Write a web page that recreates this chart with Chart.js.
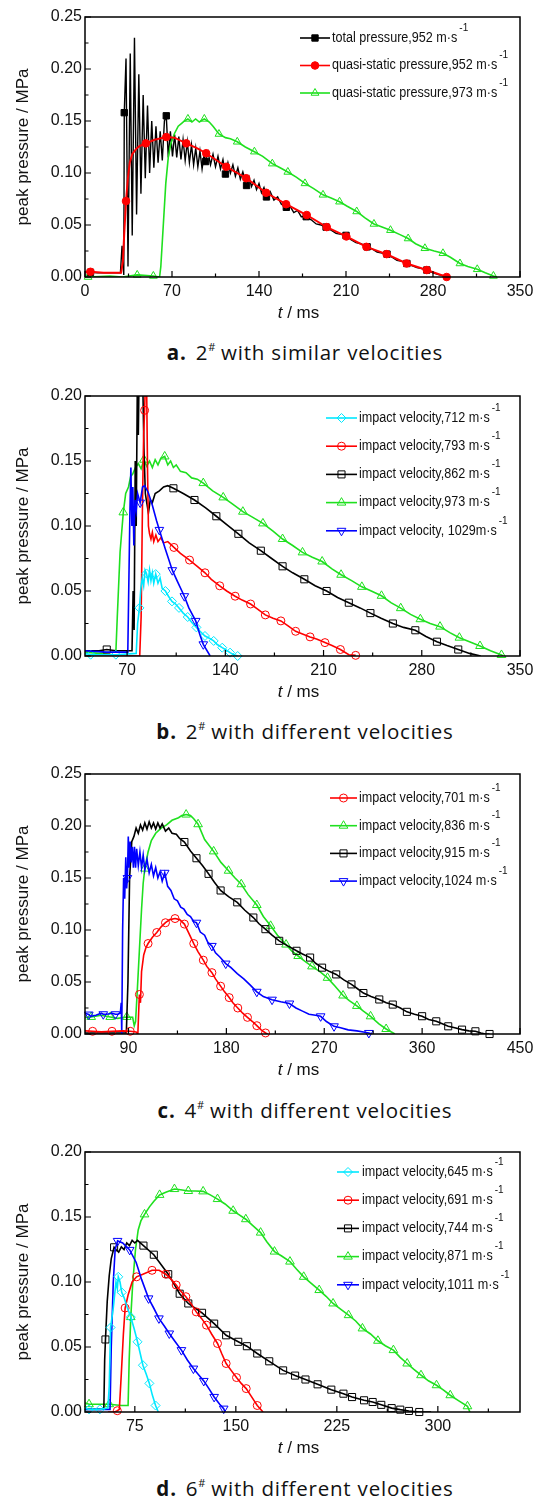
<!DOCTYPE html>
<html>
<head>
<meta charset="utf-8">
<script src="https://cdn.jsdelivr.net/npm/chart.js@4"></script>
<style>
  body { margin: 0; background: #fff; width: 539px; height: 1501px; position: relative; overflow: hidden; }
  canvas { position: absolute; left: 0; }
  .cap { position: absolute; left: 0; width: 610px; text-align: center; font-family: "Open Sans", "DejaVu Sans", sans-serif; font-size: 20.5px; letter-spacing: 0.8px; color: #111; }
  .cap b { font-weight: bold; margin-right: 9px; }
  .cap sup { font-size: 11px; vertical-align: 9px; margin-right: 5px; }
</style>
</head>
<body>
<canvas id="chartA" width="539" height="330" style="top:0px"></canvas>
<canvas id="chartB" width="539" height="330" style="top:379px"></canvas>
<canvas id="chartC" width="539" height="330" style="top:757px"></canvas>
<canvas id="chartD" width="539" height="330" style="top:1135px"></canvas>
<div class="cap" style="top:338px"><b>a.</b>2<sup>#</sup>with similar velocities</div>
<div class="cap" style="top:717px"><b>b.</b>2<sup>#</sup>with different velocities</div>
<div class="cap" style="top:1096px"><b>c.</b>4<sup>#</sup>with different velocities</div>
<div class="cap" style="top:1474px"><b>d.</b>6<sup>#</sup>with different velocities</div>
<script>
// ---- panel a : 2# with similar velocities ----
const aTicksX = [0, 70, 140, 210, 280, 350];
const aMinorX = [35, 105, 175, 245, 315];
const aTicksY = [0, 0.05, 0.1, 0.15, 0.2, 0.25];
const aLabels = ["total pressure,952 m·s", "quasi-static pressure,952 m·s", "quasi-static pressure,973 m·s"];

const aTotalMarks = [[4.4,0.0045],[31.6,0.158],[65.4,0.155],[97,0.111],[113,0.099],[130,0.088],[146,0.077],[162,0.067],[178,0.058],[194,0.048],[210,0.04],[227,0.029],[243,0.022],[259,0.013],[275,0.0067]];
const aTotalLine = [[0,0.005],[10,0.004],[20,0.004],[28.5,0.004],[29.8,0.03],[31.2,0.002],[33,0.21],[34.6,0.01],[36.4,0.215],[38,0.04],[39.8,0.23],[41.5,0.06],[43.3,0.195],[45,0.08],[46.8,0.175],[48.5,0.095],[50.3,0.165],[52,0.1],[53.7,0.15],[55.4,0.105],[57.1,0.145],[58.8,0.11],[60.5,0.14],[62.2,0.112],[63.9,0.15],[67,0.115],[68.7,0.14],[70.4,0.116],[72.1,0.137],[73.8,0.115],[75.5,0.135],[77.2,0.113],[78.9,0.132],[80.6,0.112],[82.3,0.13],[84,0.11],[85.7,0.127],[87.4,0.108],[89.1,0.124],[90.8,0.106],[92.5,0.121],[94.2,0.104],[95.9,0.118],
  [99,0.12],[101,0.108],[103,0.118],[105,0.106],[107,0.116],[109,0.104],[111,0.113],[115,0.11],[117,0.1],[119,0.108],[121,0.097],[123,0.105],[125,0.094],[127,0.101],[132,0.096],[134,0.087],[136,0.093],[138,0.084],[140,0.09],[142,0.081],[144,0.086],[149,0.082],[152,0.074],[155,0.077],[158,0.07],[165,0.068],[168,0.062],[171,0.064],[174,0.058],[182,0.055],[186,0.051],[190,0.05],[198,0.045],[202,0.042],[206,0.041],[214,0.036],[218,0.033],[222,0.032],[231,0.027],[235,0.024],[239,0.023],[247,0.019],[251,0.016],[255,0.015],[263,0.011],[267,0.009],[271,0.008],[280,0.004],[285,0.002],[290,0.001],[294,0]];
const aQuasiMarks = [[4.4,0.005],[33,0.073],[49,0.1285],[65.4,0.1346],[81.5,0.1285],[97.5,0.119],[113.6,0.106],[129.7,0.095],[145.7,0.081],[161.8,0.07],[178.4,0.0596],[194.5,0.048],[210.3,0.039],[226.4,0.029],[242.7,0.022],[258.8,0.013],[275,0.0067],[291,0]];
const aQuasiLine = [[0,0.005],[15,0.004],[29,0.004],[30.5,0.015],[31.5,0.04],[34.5,0.095],[36,0.11],[38,0.118],[41,0.123],[44,0.126],[56,0.132],[72,0.134],[90,0.124]];
const aGreenMarks = [[2.5,0],[42,0.002],[55,0.001],[82.8,0.152],[96,0.152],[107.8,0.1375],[122.5,0.13],[136.3,0.1205],[150.7,0.109],[163.2,0.101],[177,0.09],[191.5,0.079],[204.8,0.0724],[218.6,0.063],[232.5,0.051],[245.8,0.045],[260,0.037],[273.5,0.0276],[288,0.0228],[301.7,0.013],[315.6,0.0074],[328.6,0.001]];
const aGreenLine = [[0,0.001],[20,0.001],[30,0],[60,0],[61,0.01],[63,0.05],[65,0.09],[67,0.115],[69,0.128],[72,0.138],[75,0.145],[78,0.148],[80,0.15],[86,0.149],[89,0.152],[92,0.149],[100,0.149],[103,0.145],[113,0.134],[117,0.133],[129,0.125],[143,0.116],[157,0.105],[170,0.096],[184,0.085],[198,0.076],[211,0.068],[225,0.057],[239,0.048],[253,0.041],[266,0.032],[281,0.025],[294,0.019],[308,0.01],[322,0.004],[331,0]];

// ---- panel b : 2# with different velocities ----
const bTicksX = [70, 140, 210, 280, 350];
const bMinorX = [105, 175, 245, 315];
const bTicksY = [0, 0.05, 0.1, 0.15, 0.2];
const bLabels = ["impact velocity,712 m·s", "impact velocity,793 m·s", "impact velocity,862 m·s", "impact velocity,973 m·s", "impact velocity, 1029m·s"];

const bCyanMarks = [[44,0.001],[62,0.001],[78.8,0.037],[83.8,0.0635],[90.4,0.063],[97.3,0.05],[102,0.042],[107,0.037],[113.2,0.03],[119.4,0.022],[125.5,0.0154],[131.7,0.0116],[137.8,0.0064],[143.4,0.0026],[148.8,0]];
const bCyanLine = [[40,0.002],[76.5,0.002],[77.5,0.025],[79.8,0.052],[80.8,0.06],[81.8,0.054],[82.8,0.066],[85,0.057],[86,0.066],[87,0.058],[88,0.064],[89,0.056],[92,0.056],[93.5,0.06],[95,0.052],[99.5,0.046],[104.5,0.04],[110,0.033],[116,0.026],[122,0.019],[128,0.014],[134,0.009],[140,0.005],[146,0.001]];
const bRedMarks = [[82.5,0.189],[103.4,0.0835],[114.5,0.0738],[125.5,0.064],[136,0.054],[147,0.046],[158,0.04],[168.5,0.0316],[179.6,0.027],[190.1,0.019],[200.4,0.0147],[211,0.0103],[222,0.005],[232.9,0.0005]];
const bRedLine = [[40,0],[79,0],[80,0.03],[81,0.12],[81.8,0.17],[83,0.21],[84,0.2],[84.6,0.14],[85.2,0.1],[86,0.094],[87,0.09],[88,0.095],[89,0.088],[90.5,0.093],[92,0.088],[94,0.091],[96,0.087],[99,0.088],[108,0.079],[120,0.069],[130,0.059],[141,0.05],[152,0.043],[163,0.036],[174,0.029],[185,0.023],[195,0.017],[205,0.013],[216,0.008],[228,0.001]];
const bBlackMarks = [[55.5,0.005],[103,0.129],[118,0.12],[133.6,0.1075],[149.3,0.094],[165.3,0.081],[180.8,0.069],[196.3,0.059],[212.2,0.05],[228,0.041],[243.4,0.033],[259.4,0.025],[275.4,0.0198],[290.8,0.011],[306,0.005]];
const bBlackLine = [[40,0.004],[50,0.004],[62,0.004],[73.5,0.004],[74.3,0.05],[75,0.02],[75.8,0.15],[76.5,0.1],[77.3,0.21],[78,0.17],[78.8,0.24],[80,0.26],[81,0.22],[82,0.16],[83,0.125],[84,0.118],[85.2,0.11],[86.5,0.12],[88,0.118],[90,0.125],[93,0.127],[96,0.13],[99,0.131],[110,0.125],[126,0.114],[141,0.101],[157,0.087],[173,0.075],[188,0.064],[204,0.054],[220,0.045],[236,0.037],[251,0.029],[267,0.022],[283,0.015],[298,0.008],[314,0.002],[322,0]];
const bGreenMarks = [[67.3,0.1105],[82,0.151],[96.8,0.1535],[124.3,0.133],[138.5,0.122],[152.5,0.111],[166.8,0.102],[180.8,0.09],[195,0.0797],[209,0.0727],[222.5,0.0625],[237.3,0.0532],[251.3,0.0463],[265,0.0368],[279,0.0283],[293,0.0226],[306.8,0.0141],[321.5,0.0077],[336.8,0.0008]];
const bGreenLine = [[40,0.003],[50,0.002],[62,0.003],[63,0.03],[65,0.08],[69,0.125],[71,0.13],[72.5,0.138],[74,0.14],[76,0.145],[78,0.148],[80,0.144],[84,0.146],[86,0.15],[88,0.145],[90,0.151],[92,0.147],[94,0.152],[99,0.147],[101,0.15],[103,0.145],[105,0.147],[108,0.142],[112,0.141],[116,0.137],[120,0.136],[131,0.127],[145,0.117],[159,0.107],[174,0.096],[188,0.085],[202,0.076],[216,0.067],[230,0.058],[244,0.05],[258,0.041],[272,0.032],[286,0.025],[300,0.018],[314,0.011],[329,0.004],[338,0]];
const bBlueMarks = [[79.3,0.118],[93,0.097],[102.2,0.066],[110.8,0.046],[118.9,0.027],[124.3,0.009]];
const bBlueLine = [[40,0.004],[55,0.003],[70.5,0.003],[71.3,0.06],[72,0.11],[72.7,0.145],[73.4,0.1],[74.1,0.13],[74.8,0.085],[75.6,0.12],[76.5,0.112],[77.5,0.125],[81,0.13],[82.5,0.131],[85,0.126],[88,0.116],[91,0.104],[97,0.083],[106,0.057],[114,0.037],[122,0.016],[129.2,0]];

// ---- panel c : 4# with different velocities ----
const cTicksX = [90, 180, 270, 360, 450];
const cMinorX = [135, 225, 315, 405];
const cTicksY = [0, 0.05, 0.1, 0.15, 0.2, 0.25];
const cLabels = ["impact velocity,701 m·s", "impact velocity,836 m·s", "impact velocity,915 m·s", "impact velocity,1024 m·s"];

const cRedMarks = [[57,0.0026],[74.8,0.0026],[91.6,0.0026],[100,0.038],[108,0.087],[116,0.0976],[124,0.107],[132.8,0.111],[141.4,0.1057],[150,0.087],[158.8,0.071],[166.7,0.059],[174.7,0.046],[182.6,0.035],[190.5,0.025],[199.4,0.016],[208,0.008],[216,0.001]];
const cRedLine = [[50,0.003],[65,0.002],[85,0.003],[97,0.002],[98.6,0],[99.3,0.02],[101,0.03],[102,0.06],[104,0.076],[106,0.083],[112,0.093],[120,0.103],[128,0.11],[137,0.11],[145,0.098],[154,0.079],[162,0.065],[170,0.053],[178,0.041],[186,0.03],[195,0.02],[204,0.012],[212,0.004],[218,0]];
const cGreenMarks = [[55.7,0.0164],[73.2,0.0164],[88.4,0.0164],[105,0.159],[143,0.211],[154,0.2017],[168.3,0.1756],[182,0.157],[193.7,0.144],[208,0.124],[220.7,0.104],[234.9,0.086],[246,0.075],[258.7,0.065],[273,0.054],[287.3,0.037],[300,0.027],[312.6,0.017],[326.9,0.0048]];
const cGreenLine = [[50,0.016],[65,0.018],[80,0.015],[93.8,0.016],[95.3,0.008],[96.5,0.012],[98,0.04],[100,0.08],[102,0.12],[103.5,0.145],[108,0.175],[111,0.186],[115,0.193],[120,0.198],[125,0.201],[130,0.2055],[136,0.208],[139,0.21],[147,0.21],[150,0.207],[160,0.187],[175,0.165],[188,0.15],[200,0.134],[214,0.113],[227,0.095],[240,0.08],[252,0.07],[266,0.06],[280,0.046],[293,0.032],[306,0.022],[320,0.01],[335,0]];
const cBlackMarks = [[141.4,0.1846],[152.5,0.169],[163.6,0.154],[174.7,0.138],[190,0.1266],[204.8,0.112],[215.9,0.1008],[228.6,0.0896],[244.5,0.08],[257,0.0735],[268,0.0638],[281,0.0573],[295,0.0477],[306,0.0394],[320.6,0.0332],[333,0.0283],[346,0.0213],[360,0.0171],[373,0.0122],[384,0.0074],[396.7,0.0042],[409,0.0026],[422,0]];
const cBlackLine = [[50,0.001],[88,0.001],[89.5,0.05],[91,0.15],[93,0.185],[95,0.19],[97,0.198],[99,0.193],[101,0.201],[103,0.196],[105,0.203],[107,0.197],[109,0.204],[111,0.198],[113,0.203],[115,0.197],[117,0.203],[119,0.198],[121,0.202],[124,0.195],[127,0.198],[130,0.193],[134,0.192],[137,0.188],[147,0.176],[158,0.162],[169,0.146],[182,0.132],[197,0.119],[210,0.106],[222,0.095],[236,0.085],[250,0.077],[262,0.068],[275,0.06],[288,0.052],[300,0.044],[313,0.036],[327,0.03],[340,0.025],[353,0.019],[366,0.014],[378,0.01],[390,0.006],[403,0.003],[414,0.001],[418,0]];
const cBlueMarks = [[53.5,0.0187],[66.8,0.019],[78,0.019],[89,0.15],[123.3,0.155],[152.5,0.107],[166.7,0.0847],[179.4,0.0677],[208,0.0406],[222,0.033],[238,0.0293],[266.7,0.017],[279,0.0074],[311,0.001]];
const cBlueLine = [[50,0.02],[55,0.017],[60,0.018],[65,0.02],[70,0.019],[75,0.02],[80,0.019],[82.5,0.02],[83.3,0.03],[83.8,0],[84.6,0.1],[85.5,0.15],[86.5,0.13],[87.5,0.17],[88.3,0.14],[89.8,0.19],[90.5,0.16],[91.5,0.185],[92.5,0.165],[93.5,0.18],[94.5,0.16],[95.5,0.18],[96.5,0.16],[97.5,0.178],[99,0.162],[100.5,0.175],[102,0.16],[103.5,0.172],[105,0.158],[107,0.168],[109,0.155],[111,0.163],[113,0.152],[115,0.16],[117,0.15],[119,0.156],[121,0.147],[126,0.142],[129,0.138],[132,0.13],[135,0.128],[138,0.122],[141,0.12],[144,0.115],[147,0.113],[150,0.108],[156,0.098],[160,0.095],[163,0.088],[170,0.078],[174,0.074],[184,0.064],[190,0.058],[196,0.053],[202,0.047],[214,0.036],[230,0.031],[244,0.025],[250,0.022],[256,0.019],[262,0.018],[272,0.012],[285,0.006],[292,0.004],[300,0.003],[306,0.002],[314,0]];

// ---- panel d : 6# with different velocities ----
const dTicksX = [75, 150, 225, 300];
const dMinorX = [112.5, 187.5, 262.5, 337.5];
const dTicksY = [0, 0.05, 0.1, 0.15, 0.2];
const dLabels = ["impact velocity,645 m·s", "impact velocity,691 m·s", "impact velocity,744 m·s", "impact velocity,871 m·s", "impact velocity,1011 m·s"];

const dCyanMarks = [[41,0.002],[49,0.002],[57,0.065],[62.7,0.104],[65.3,0.092],[72,0.073],[77,0.054],[81,0.036],[85.8,0.022],[90.4,0.005]];
const dCyanLine = [[38,0.003],[55,0.003],[56,0.02],[59,0.08],[61,0.1],[62,0.095],[64,0.1],[67,0.088],[69.5,0.08],[74.5,0.064],[79,0.045],[83.5,0.029],[88,0.013],[92.4,0]];
const dRedMarks = [[62,0.001],[67.8,0.08],[76.3,0.104],[87.8,0.109],[98,0.106],[105.7,0.0977],[112.9,0.0887],[120.6,0.077],[128.2,0.0668],[136.4,0.0527],[142.8,0.0373],[150.5,0.0265],[157.7,0.018],[165.9,0.005]];
const dRedLine = [[55,0],[60,0],[63.5,0.002],[65,0.03],[66.5,0.06],[70,0.09],[73,0.1],[81,0.106],[93,0.109],[102,0.102],[109,0.093],[117,0.083],[124.5,0.072],[132,0.06],[139.5,0.045],[146.5,0.032],[154,0.022],[161.5,0.012],[170.2,0]];
const dBlackMarks = [[53.2,0.0558],[59.6,0.1267],[81.4,0.128],[89.1,0.121],[99.8,0.106],[108.3,0.091],[114.7,0.0835],[124.9,0.0763],[133.9,0.068],[142.8,0.059],[151.8,0.054],[158.2,0.0506],[165.9,0.045],[174.8,0.039],[185.1,0.032],[194,0.028],[201.7,0.025],[210.7,0.0213],[220.9,0.0172],[229.9,0.0141],[236.3,0.0115],[245.2,0.009],[251.6,0.0077],[258,0.0055],[265.7,0.003],[272.1,0.0018],[278.5,0.0008],[286.2,0]];
const dBlackLine = [[38,0.002],[50,0.002],[52,0.003],[52.6,0.04],[54.5,0.085],[56,0.105],[57.5,0.118],[61,0.125],[63,0.123],[65,0.127],[67,0.125],[69,0.13],[71,0.128],[73,0.132],[75,0.13],[77,0.132],[295,0]];
const dGreenMarks = [[41,0.006],[56,0.006],[72,0.073],[82.2,0.152],[93.4,0.167],[104.4,0.1715],[114.7,0.17],[125.7,0.1697],[136.4,0.1638],[148,0.1548],[157.4,0.1483],[168.4,0.138],[178.7,0.1234],[190.2,0.1157],[200.4,0.104],[211.9,0.0938],[222.2,0.0835],[233.7,0.0745],[244,0.0643],[255.5,0.0548],[267,0.0476],[277.2,0.0373],[287.5,0.0283],[299,0.0206],[309.2,0.0129],[322,0.0044]];
const dGreenLine = [[38,0.007],[50,0.006],[65,0.005],[70,0.005],[70.8,0.04],[73.5,0.1],[75.5,0.125],[77.5,0.14],[79.5,0.147],[86,0.158],[89,0.162],[98,0.169],[109,0.171],[120,0.17],[131,0.167],[142,0.16],[152,0.152],[162,0.144],[173,0.131],[184,0.12],[195,0.11],[206,0.099],[217,0.089],[228,0.079],[239,0.07],[250,0.06],[261,0.051],[272,0.042],[282,0.033],[293,0.024],[304,0.017],[315,0.009],[323.8,0]];
const dBlueMarks = [[62.2,0.1316],[71.2,0.1247],[85.2,0.0874],[92.9,0.072],[100.6,0.0604],[109.6,0.0476],[118.5,0.0334],[126.2,0.0239],[133.9,0.0116],[141,0.0026]];
const dBlueLine = [[38,0.002],[50,0.002],[56.6,0.002],[57.5,0.05],[59,0.1],[60.4,0.125],[66,0.13],[76,0.115],[80,0.102],[89,0.08],[97,0.066],[105,0.054],[114,0.04],[122,0.029],[130,0.018],[138,0.006],[142,0]];

// ---- styles ----
const BLACK = "#000000", RED = "#ff0000", GREEN = "#1fe01f", BLUE = "#0000ff", CYAN = "#00e8ff";
const FONT = "'Liberation Sans', Arial, sans-serif";

const toXY = (pairs) => pairs.map(([x, y]) => ({ x, y }));

// line through the marker points plus the extra points read between them
const mergeLine = (line, marks) => {
  const seen = new Set();
  return [...marks, ...line]
    .filter(([x]) => (seen.has(x) ? false : seen.add(x)))
    .sort((a, b) => a[0] - b[0]);
};

/**
 * One series = a line dataset and a marker dataset.
 */
const series = (line, marks, color, style, order, opts = {}) => {
  return [
    {
      data: toXY(mergeLine(line, marks)),
      showLine: true,
      borderColor: color,
      borderWidth: opts.lineWidth || 1.6,
      pointRadius: 0,
      order: order,
    },
    {
      data: toXY(marks),
      showLine: false,
      borderColor: color,
      backgroundColor: opts.filled ? color : "rgba(0,0,0,0)",
      borderWidth: 1,
      pointStyle: style,
      pointRotation: opts.rotation || 0,
      pointRadius: opts.radius || 4.5,
      order: order,
      clip: false,
    },
  ];
};

const framePlugin = {
  id: "frame",
  afterDraw(chart) {
    const ctx = chart.ctx;
    const area = chart.chartArea;
    const cfg = chart.options.plugins.frame;
    const xs = chart.scales.x;
    const ys = chart.scales.y;
    ctx.save();
    ctx.strokeStyle = "#000";
    ctx.lineWidth = 1.5;
    ctx.strokeRect(area.left, area.top, area.right - area.left, area.bottom - area.top);

    // inward ticks on bottom and left
    ctx.lineWidth = 1.2;
    ctx.beginPath();
    cfg.ticksX.forEach((v) => {
      const px = xs.getPixelForValue(v);
      ctx.moveTo(px, area.bottom);
      ctx.lineTo(px, area.bottom - 6);
    });
    cfg.minorX.forEach((v) => {
      const px = xs.getPixelForValue(v);
      ctx.moveTo(px, area.bottom);
      ctx.lineTo(px, area.bottom - 3.5);
    });
    cfg.ticksY.forEach((v, i) => {
      const py = ys.getPixelForValue(v);
      ctx.moveTo(area.left, py);
      ctx.lineTo(area.left + 6, py);
      if (i < cfg.ticksY.length - 1) {
        const pm = ys.getPixelForValue(v + 0.025);
        ctx.moveTo(area.left, pm);
        ctx.lineTo(area.left + 3.5, pm);
      }
    });
    ctx.stroke();

    // axis titles
    ctx.fillStyle = "#111";
    ctx.font = "17px " + FONT;
    ctx.textAlign = "center";
    ctx.textBaseline = "middle";
    ctx.save();
    ctx.translate(23, (area.top + area.bottom) / 2);
    ctx.rotate(-Math.PI / 2);
    ctx.fillText("peak pressure / MPa", 0, 0);
    ctx.restore();

    const cx = (area.left + area.right) / 2 - 4;
    const ty = area.bottom + 36;
    ctx.textAlign = "left";
    ctx.font = "italic 17px " + FONT;
    const tw = ctx.measureText("t").width;
    ctx.font = "17px " + FONT;
    const rw = ctx.measureText(" / ms").width;
    const sx = cx - (tw + rw) / 2;
    ctx.font = "italic 17px " + FONT;
    ctx.fillText("t", sx, ty);
    ctx.font = "17px " + FONT;
    ctx.fillText(" / ms", sx + tw, ty);

    // legend: line + marker + label with a -1 superscript
    const lg = cfg.legend;
    const sets = chart.data.datasets;
    lg.labels.forEach((label, i) => {
      const y = lg.y0 + i * lg.dy;
      const markSet = sets[i * 2 + 1];
      ctx.strokeStyle = markSet.borderColor;
      ctx.lineWidth = 1.6;
      ctx.beginPath();
      ctx.moveTo(lg.x1, y);
      ctx.lineTo(lg.x2, y);
      ctx.stroke();
      ctx.fillStyle = markSet.backgroundColor;
      ctx.lineWidth = 1;
      Chart.helpers.drawPoint(ctx, {
        pointStyle: markSet.pointStyle,
        rotation: markSet.pointRotation,
        radius: markSet.pointRadius,
        borderWidth: 1,
      }, (lg.x1 + lg.x2) / 2, y);

      ctx.fillStyle = "#111";
      ctx.textAlign = "left";
      ctx.textBaseline = "middle";
      ctx.font = "14px " + FONT;
      ctx.save();
      ctx.translate(lg.tx, y);
      ctx.scale(0.9, 1);
      ctx.fillText(label, 0, 0);
      const w = ctx.measureText(label).width * 0.9;
      ctx.restore();
      ctx.font = "10px " + FONT;
      ctx.fillText("-1", lg.tx + w + 2, y - 10);
    });
    ctx.restore();
  },
};

const makeChart = (id, xMin, xMax, yMax, ticksX, minorX, ticksY, datasets, legend) => {
  const ctx = document.getElementById(id).getContext("2d");
  return new Chart(ctx, {
    type: "scatter",
    data: { datasets },
    plugins: [framePlugin],
    options: {
      responsive: false,
      animation: false,
      devicePixelRatio: 1,
      layout: { padding: { top: 17, right: 19, left: 0, bottom: 0 } },
      plugins: {
        legend: { display: false },
        tooltip: { enabled: false },
        frame: { ticksX, minorX, ticksY, legend },
      },
      scales: {
        x: {
          type: "linear",
          min: xMin,
          max: xMax,
          grid: { display: false, drawTicks: false },
          border: { display: false },
          afterBuildTicks: (s) => { s.ticks = ticksX.map((v) => ({ value: v })); },
          afterFit: (s) => { s.height = 53; },
          ticks: {
            padding: 5,
            color: "#111",
            font: { family: FONT, size: 16 },
            maxRotation: 0,
            callback: (v) => String(v),
          },
        },
        y: {
          type: "linear",
          min: 0,
          max: yMax,
          grid: { display: false, drawTicks: false },
          border: { display: false },
          afterBuildTicks: (s) => { s.ticks = ticksY.map((v) => ({ value: v })); },
          afterFit: (s) => { s.width = 85; },
          ticks: {
            padding: 3,
            color: "#111",
            font: { family: FONT, size: 16 },
            callback: (v) => v.toFixed(2),
          },
        },
      },
    },
  });
};

makeChart("chartA", 0, 350, 0.25, aTicksX, aMinorX, aTicksY, [
  ...series(aTotalLine, aTotalMarks, BLACK, "rect", 2, { filled: true, radius: 4.5, lineWidth: 1.4 }),
  ...series(aQuasiLine, aQuasiMarks, RED, "circle", 0, { filled: true, radius: 3.8, lineWidth: 2 }),
  ...series(aGreenLine, aGreenMarks, GREEN, "triangle", 1, { radius: 4.5 }),
], { labels: aLabels, y0: 38, dy: 27.5, x1: 300, x2: 330, tx: 332 });

makeChart("chartB", 40, 350, 0.2, bTicksX, bMinorX, bTicksY, [
  ...series(bCyanLine, bCyanMarks, CYAN, "rectRot", 1, { radius: 4.5 }),
  ...series(bRedLine, bRedMarks, RED, "circle", 2, { radius: 4 }),
  ...series(bBlackLine, bBlackMarks, BLACK, "rect", 3, { radius: 5 }),
  ...series(bGreenLine, bGreenMarks, GREEN, "triangle", 4, { radius: 5 }),
  ...series(bBlueLine, bBlueMarks, BLUE, "triangle", 0, { radius: 5, rotation: 180 }),
], { labels: bLabels, y0: 39, dy: 28.2, x1: 326, x2: 357, tx: 359 });

makeChart("chartC", 50, 450, 0.25, cTicksX, cMinorX, cTicksY, [
  ...series(cRedLine, cRedMarks, RED, "circle", 0, { radius: 4 }),
  ...series(cGreenLine, cGreenMarks, GREEN, "triangle", 3, { radius: 5 }),
  ...series(cBlackLine, cBlackMarks, BLACK, "rect", 2, { radius: 5 }),
  ...series(cBlueLine, cBlueMarks, BLUE, "triangle", 1, { radius: 5, rotation: 180 }),
], { labels: cLabels, y0: 41, dy: 27.7, x1: 330, x2: 357, tx: 359 });

makeChart("chartD", 38, 361, 0.2, dTicksX, dMinorX, dTicksY, [
  ...series(dCyanLine, dCyanMarks, CYAN, "rectRot", 0, { radius: 4.5 }),
  ...series(dRedLine, dRedMarks, RED, "circle", 2, { radius: 4 }),
  ...series(dBlackLine, dBlackMarks, BLACK, "rect", 3, { radius: 5 }),
  ...series(dGreenLine, dGreenMarks, GREEN, "triangle", 4, { radius: 5 }),
  ...series(dBlueLine, dBlueMarks, BLUE, "triangle", 1, { radius: 5, rotation: 180 }),
], { labels: dLabels, y0: 37, dy: 28.2, x1: 337, x2: 359, tx: 362 });
</script>
</body>
</html>
